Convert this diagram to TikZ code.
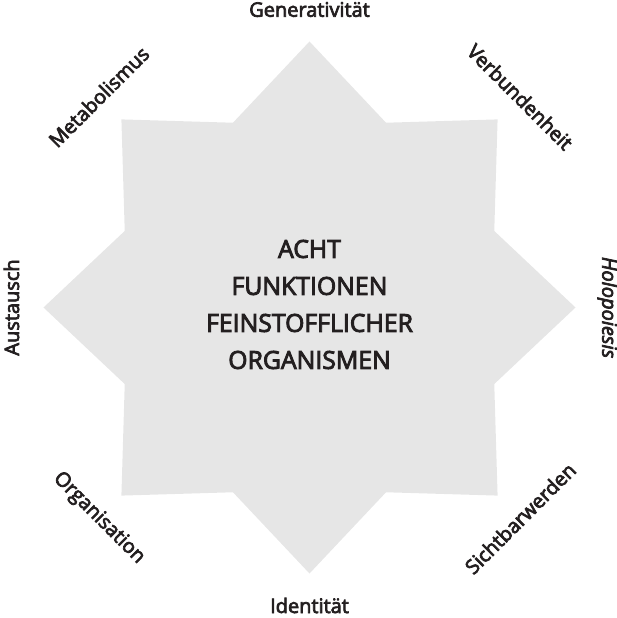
\documentclass[tikz,border=0pt]{standalone}
\usepackage{fontspec}
\setmainfont{Open Sans}[FakeBold=3.5]
\usepackage{tikz}
\definecolor{inkdark}{HTML}{231F20}
\definecolor{starfill}{HTML}{E6E6E6}
\tikzstyle{funktion} = [text=inkdark, inner sep=0pt, font=\fontsize{20}{22}\selectfont]
\tikzstyle{titel} = [text=inkdark, align=center, inner sep=0pt,
font=\fontsize{24.8}{37}\selectfont]

\begin{document}
\begin{tikzpicture}

\useasboundingbox (-309.5pt,-310.5pt) rectangle (307.5pt,307.5pt);

% Star
\fill [starfill] (0:266pt)
  \foreach \a in {0,45,...,315} { -- (\a+22.5:200pt) -- (\a+45:266pt) } -- cycle;

% Title
\node [titel] (titel) at (0pt,3pt) {ACHT\\FUNKTIONEN\\FEINSTOFFLICHER\\ORGANISMEN};

% Functions
\foreach \ang/\rot/\name/\txt in {90/0/gen/Generativität, 45/-45/verb/Verbundenheit,
  0/-90/holo/{\itshape Holopoiesis}, -45/45/sicht/Sichtbarwerden,
  -90/0/ident/Identität, -135/-45/orga/Organisation,
  180/90/aust/Austausch, 135/45/meta/Metabolismus}
  \node [funktion, rotate=\rot] (\name) at (\ang:298pt) {\txt};
\end{tikzpicture}
\end{document}
